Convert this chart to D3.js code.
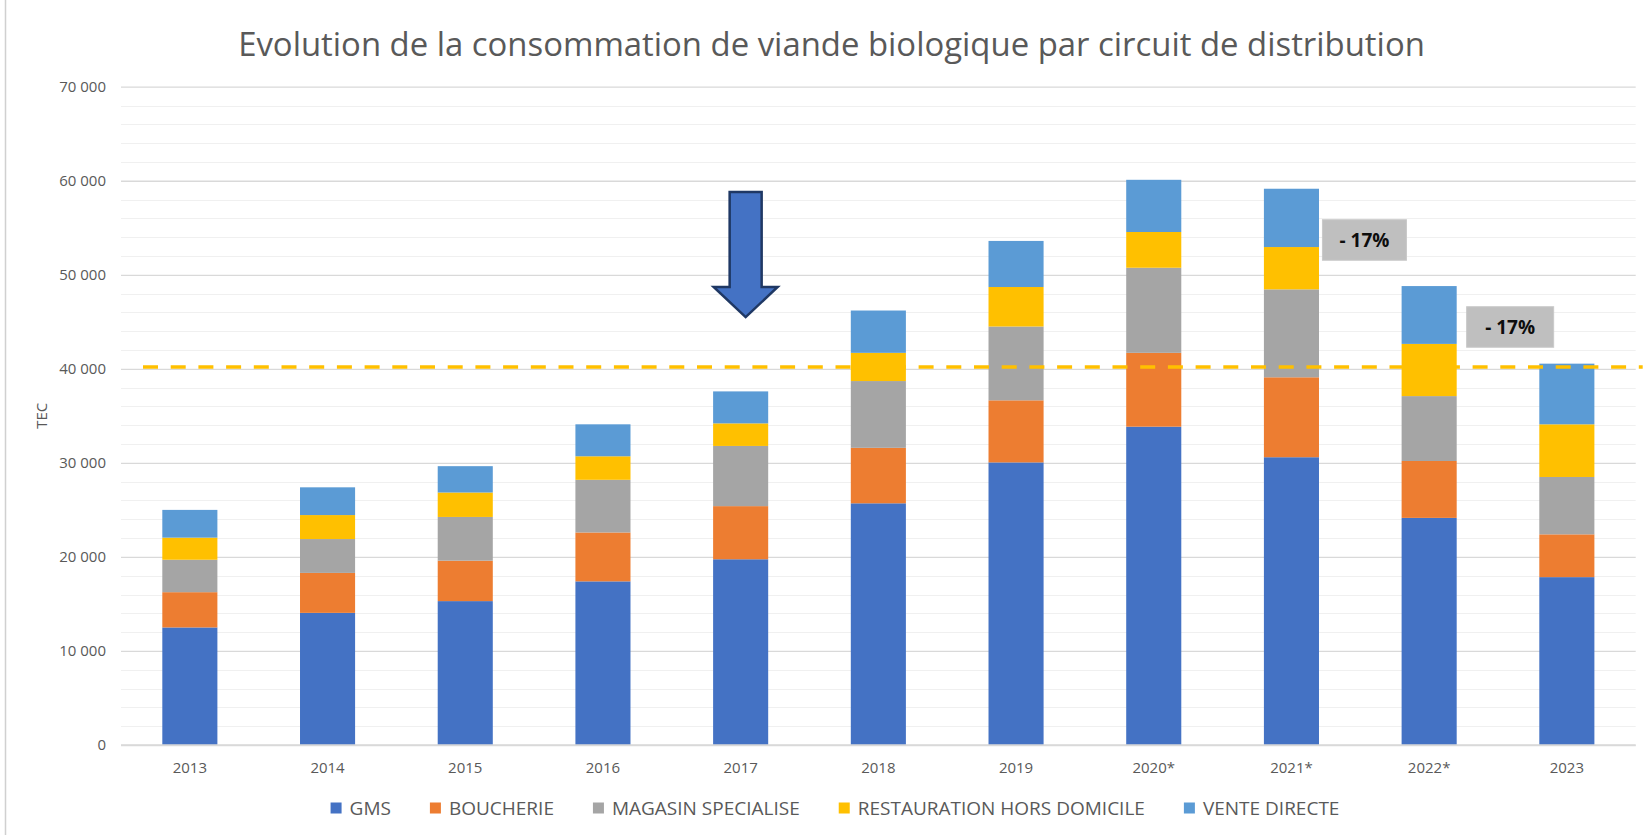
<!DOCTYPE html>
<html>
<head>
<meta charset="utf-8">
<script src="https://cdn.jsdelivr.net/npm/d3@7"></script>
<style>
  html, body { margin: 0; padding: 0; background: #fff; }
  svg { display: block; }
  text { font-family: "Open Sans", "Noto Sans", sans-serif; }
</style>
</head>
<body>
<svg id="chart" width="1652" height="835"></svg>
<script>
// ---------- DATA ----------
const title = "Evolution de la consommation de viande biologique par circuit de distribution";
const categories = ["2013","2014","2015","2016","2017","2018","2019","2020*","2021*","2022*","2023"];
const seriesNames = ["GMS","BOUCHERIE","MAGASIN SPECIALISE","RESTAURATION HORS DOMICILE","VENTE DIRECTE"];
const gms          = [12500,14050,15300,17400,19750,25700,30050,33850,30600,24150,17850];
const boucherie    = [3750, 4250, 4300, 5200, 5650, 5900, 6600, 7850, 8500, 6050, 4550];
const magasin      = [3450, 3600, 4650, 5600, 6400, 7100, 7850, 9050, 9350, 6900, 6100];
const restauration = [2350, 2550, 2600, 2500, 2400, 3000, 4200, 3800, 4500, 5550, 5600];
const venteDirecte = [2950, 2950, 2800, 3400, 3400, 4500, 4900, 5550, 6200, 6150, 6450];
const yTicks = [0,10000,20000,30000,40000,50000,60000,70000];
const yAxisTitle = "TEC";
const referenceLevel = 40200;
const annotationCats = ["2021*","2022*"];
const annotationTexts = ["- 17%","- 17%"];
const annotationValues = [53700, 44450];
const arrowCat = "2017";
const arrowValues = [58800, 48700, 45500]; // top of shaft, head start, tip

const colors = ["#4472C4","#ED7D31","#A5A5A5","#FFC000","#5B9BD5"];

// ---------- LAYOUT ----------
const W = 1652, H = 835;
const plot = {left: 121, right: 1635.7, top: 86.7, bottom: 745};
const svg = d3.select("#chart");

svg.append("rect").attr("width", W).attr("height", H).attr("fill", "#fff");
svg.append("line").attr("x1", 5.5).attr("x2", 5.5).attr("y1", 0).attr("y2", H)
   .attr("stroke", "#D0D0D0").attr("stroke-width", 1.5);

const x = d3.scaleBand().domain(categories).range([plot.left, plot.right])
  .paddingInner(0.6).paddingOuter(0.3);
const y = d3.scaleLinear().domain([0, 70000]).range([plot.bottom, plot.top]);

const fr = d3.formatLocale({decimal: ",", thousands: " ", grouping: [3], currency: ["", " €"]});
const fmt = fr.format(",d");

// minor gridlines
const minor = d3.range(0, 70001, 2000).filter(v => v % 10000 !== 0);
svg.append("g").selectAll("line").data(minor).join("line")
  .attr("x1", plot.left).attr("x2", plot.right)
  .attr("y1", d => Math.round(y(d)) + 0.5).attr("y2", d => Math.round(y(d)) + 0.5)
  .attr("stroke", "#F0F0F0").attr("stroke-width", 1);

// major gridlines + y axis labels via d3 axis
const yAxis = d3.axisLeft(y).tickValues(yTicks).tickFormat(fmt)
  .tickSize(-(plot.right - plot.left)).tickPadding(15);
const gy = svg.append("g").attr("transform", `translate(${plot.left},0)`).call(yAxis);
gy.select(".domain").remove();
gy.selectAll(".tick line").attr("stroke", "#D9D9D9").attr("stroke-width", 1.3);
gy.selectAll(".tick text").attr("fill", "#595959").style("font-size", "15px")
  .style("font-family", "'Open Sans', sans-serif");

// stacked bars
const rows = categories.map((c, i) => ({
  cat: c, s0: gms[i], s1: boucherie[i], s2: magasin[i], s3: restauration[i], s4: venteDirecte[i]
}));
const stack = d3.stack().keys(["s0","s1","s2","s3","s4"]);
const stacked = stack(rows);
svg.append("g").selectAll("g").data(stacked).join("g")
  .attr("fill", (d, i) => colors[i])
  .selectAll("rect").data(d => d).join("rect")
  .attr("x", d => x(d.data.cat))
  .attr("width", x.bandwidth())
  .attr("y", d => y(d[1]))
  .attr("height", d => y(d[0]) - y(d[1]));

// x axis
const xAxis = d3.axisBottom(x).tickSize(0).tickPadding(17);
const gx = svg.append("g").attr("transform", `translate(0,${plot.bottom})`).call(xAxis);
gx.select(".domain").attr("stroke", "#D9D9D9").attr("stroke-width", 1.3)
  .attr("d", `M${plot.left},0H${plot.right}`);
gx.selectAll(".tick text").attr("fill", "#595959").style("font-size", "15px")
  .style("font-family", "'Open Sans', sans-serif");

// y axis title
svg.append("text")
  .attr("transform", `translate(47,${(plot.top + plot.bottom) / 2}) rotate(-90)`)
  .attr("text-anchor", "middle").attr("fill", "#595959")
  .style("font-size", "15px").text(yAxisTitle);

// reference dashed line
svg.append("line")
  .attr("x1", plot.left + 22).attr("x2", plot.right + 7)
  .attr("y1", y(referenceLevel)).attr("y2", y(referenceLevel))
  .attr("stroke", "#FFC000").attr("stroke-width", 3.5)
  .attr("stroke-dasharray", "15,12.7");

// arrow
{
  const cx = x(arrowCat) + x.bandwidth() / 2 + 5;
  const [vTop, vHead, vTip] = arrowValues;
  const sw = 16, hw = 32;
  const pts = [
    [cx - sw, y(vTop)], [cx + sw, y(vTop)], [cx + sw, y(vHead)], [cx + hw, y(vHead)],
    [cx, y(vTip)], [cx - hw, y(vHead)], [cx - sw, y(vHead)]
  ];
  svg.append("path").attr("d", d3.line()(pts) + "Z")
    .attr("fill", "#4472C4").attr("stroke", "#1F3864").attr("stroke-width", 2.5)
    .attr("stroke-linejoin", "miter");
}

// annotations
const annOffsets = [73, 81];
const annWidths = [84, 87];
annotationCats.forEach((c, i) => {
  const cx = x(c) + x.bandwidth() / 2 + annOffsets[i];
  const cy = y(annotationValues[i]);
  const w = annWidths[i], h = 40.5;
  svg.append("rect").attr("x", cx - w / 2).attr("y", cy - h / 2)
    .attr("width", w).attr("height", h)
    .attr("fill", "#BFBFBF").attr("stroke", "#C9C9C9").attr("stroke-width", 1);
  svg.append("text").attr("x", cx).attr("y", cy).attr("dy", "0.36em")
    .attr("text-anchor", "middle").attr("fill", "#0D0D0D")
    .style("font-size", "19px").style("font-weight", "700")
    .text(annotationTexts[i]);
});

// title
{
  const t = svg.append("text").attr("x", 831.5).attr("y", 56)
    .attr("text-anchor", "middle").attr("fill", "#595959")
    .style("font-size", "30px").text(title);
  const len = t.node().getComputedTextLength();
  t.style("font-size", (30 * 1187 / len).toFixed(2) + "px");
}

// legend
{
  const g = svg.append("g");
  const sq = 11, gapSq = 8, gapItem = 39, ly = 808;
  let cursor = 0;
  seriesNames.forEach((name, i) => {
    const it = g.append("g");
    it.append("rect").attr("x", 0).attr("y", -sq / 2).attr("width", sq).attr("height", sq)
      .attr("fill", colors[i]);
    const tx = it.append("text").attr("x", sq + gapSq).attr("y", 0).attr("dy", "0.35em")
      .attr("fill", "#595959").style("font-size", "19px").text(name);
    const w = sq + gapSq + tx.node().getComputedTextLength();
    it.attr("transform", `translate(${cursor},${ly})`);
    cursor += w + gapItem;
  });
  const total = cursor - gapItem;
  g.attr("transform", `translate(${835 - total / 2},0)`);
}
</script>
</body>
</html>
